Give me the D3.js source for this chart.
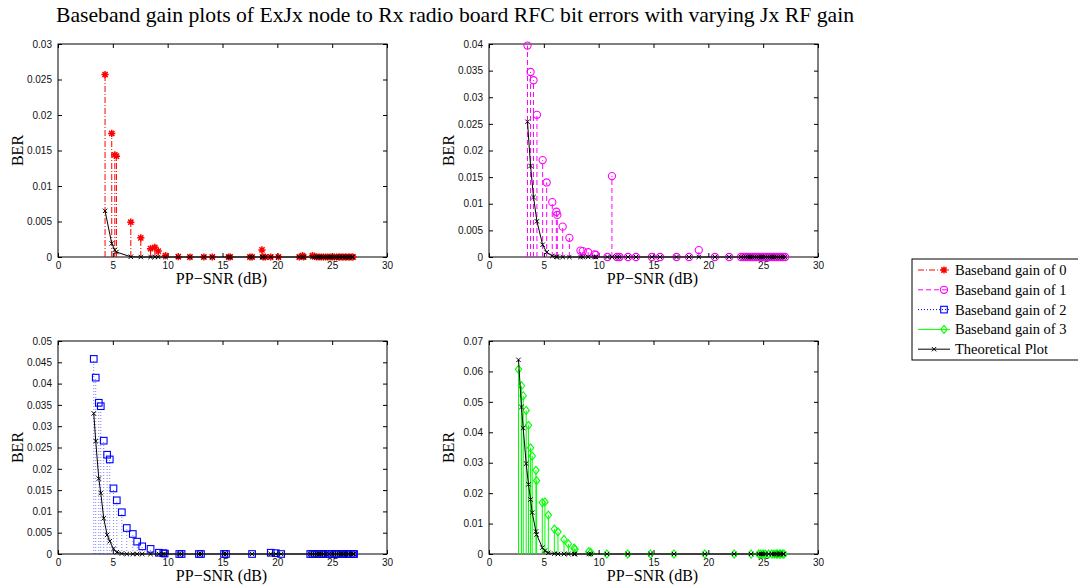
<!DOCTYPE html>
<html>
<head>
<meta charset="utf-8">
<script src="https://cdn.jsdelivr.net/npm/d3@7"></script>
<style>
  body { margin: 0; background: #fff; }
  .tick text { font-family: "Liberation Sans", Arial, sans-serif; font-size: 10px; }
</style>
</head>
<body>
<div id="chart"></div>
<script>
const title = "Baseband gain plots of ExJx node to Rx radio board RFC bit errors with varying Jx RF gain";
const seriesNames = ["Baseband gain of 0", "Baseband gain of 1", "Baseband gain of 2", "Baseband gain of 3", "Theoretical Plot"];
const xTicks = [0, 5, 10, 15, 20, 25, 30];
const yMax = [0.03, 0.04, 0.05, 0.07];
const yTicks0 = [0, 0.005, 0.01, 0.015, 0.02, 0.025, 0.03];
const yTicks1 = [0, 0.005, 0.01, 0.015, 0.02, 0.025, 0.03, 0.035, 0.04];
const yTicks2 = [0, 0.005, 0.01, 0.015, 0.02, 0.025, 0.03, 0.035, 0.04, 0.045, 0.05];
const yTicks3 = [0, 0.01, 0.02, 0.03, 0.04, 0.05, 0.06, 0.07];

// gain 0
const snr0 = [4.29, 4.9, 5.18, 5.33, 6.64, 7.55, 8.44, 8.83, 9.14, 9.8,
  10.97, 12.03, 13.3, 14.07, 15.56, 15.7, 17.5, 17.7, 18.6, 18.7,
  18.9, 19.4, 20.1, 22.0, 22.3, 22.4, 23.2, 23.4, 23.6, 23.8,
  24.0, 24.2, 24.4, 24.6, 24.8, 25.0, 25.2, 25.4, 25.6, 25.7,
  25.9, 26.0, 26.2, 26.3, 26.5, 26.6, 26.8, 26.9];
const ber0 = [0.0257, 0.0174, 0.0144, 0.0142, 0.0049, 0.0027, 0.00117, 0.00136, 0.00084, 0.0002,
  0.00005, 0, 0, 0, 0, 0, 0, 0, 0.001, 0,
  0, 0, 0, 0, 0.0002, 0, 0.0002, 0.0001, 0, 0,
  0, 0, 0, 0, 0, 0, 0, 0, 0, 0,
  0, 0, 0, 0, 0, 0, 0, 0];
const theory0 = [0.0065, 0.0019, 0.001, 0.0007, 0.00003, 0, 0, 0, 0, 0,
  0, 0, 0, 0, 0, 0, 0, 0, 0, 0,
  0, 0, 0, 0, 0, 0, 0, 0, 0, 0,
  0, 0, 0, 0, 0, 0, 0, 0, 0, 0,
  0, 0, 0, 0, 0, 0, 0, 0];

// gain 1
const snr1 = [3.51, 3.79, 4.06, 4.37, 4.89, 5.26, 5.77, 6.14, 6.23, 6.72,
  7.33, 8.34, 8.55, 9.04, 9.62, 9.75, 10.8, 11.21, 11.67, 11.9,
  12.68, 13.4, 14.85, 15.6, 17.1, 18.24, 19.13, 20.6, 21.9, 22.98,
  23.2, 23.4, 23.6, 23.8, 24.0, 24.2, 24.4, 24.6, 24.8, 25.0,
  25.2, 25.4, 25.6, 25.8, 26.0, 26.2, 26.4, 26.6, 26.8, 27.0];
const ber1 = [0.0397, 0.03475, 0.0332, 0.0267, 0.0182, 0.014, 0.0103, 0.0085, 0.0079, 0.0057,
  0.0036, 0.0012, 0.0011, 0.0009, 0.0005, 0.0004, 0, 0.0152, 0, 0,
  0, 0, 0, 0, 0, 0, 0.0013, 0, 0, 0,
  0, 0, 0, 0, 0, 0, 0, 0, 0, 0,
  0, 0, 0, 0, 0, 0, 0, 0, 0, 0];
const theory1 = [0.0254, 0.0171, 0.01125, 0.0067, 0.0023, 0.0009, 0.0002, 0.00005, 0, 0,
  0, 0, 0, 0, 0, 0, 0, 0, 0, 0,
  0, 0, 0, 0, 0, 0, 0, 0, 0, 0,
  0, 0, 0, 0, 0, 0, 0, 0, 0, 0,
  0, 0, 0, 0, 0, 0, 0, 0, 0, 0];

// gain 2
const snr2 = [3.26, 3.44, 3.72, 3.9, 4.17, 4.48, 4.72, 5.06, 5.36, 5.82,
  6.27, 6.82, 7.22, 7.68, 8.44, 9.2, 9.6, 9.72, 11.06, 11.27,
  12.85, 13.04, 15.14, 15.32, 17.7, 19.4, 19.86, 20.35, 23.0, 23.2,
  23.4, 23.6, 23.8, 24.0, 24.2, 24.4, 24.7, 25.0, 25.2, 25.4,
  25.6, 25.8, 26.0, 26.1, 26.3, 26.5, 26.7, 26.9, 27.0];
const ber2 = [0.0458, 0.0414, 0.0355, 0.0347, 0.0266, 0.0233, 0.0222, 0.0154, 0.0126, 0.0098,
  0.0061, 0.0047, 0.0029, 0.0018, 0.0012, 0.0003, 0.0002, 0.0001, 0, 0,
  0, 0, 0, 0, 0, 0.0003, 0.0002, 0, 0, 0,
  0, 0, 0, 0, 0, 0, 0, 0, 0, 0,
  0, 0, 0, 0, 0, 0, 0, 0, 0];
const theory2 = [0.033, 0.0265, 0.0177, 0.0143, 0.0084, 0.0045, 0.003, 0.0012, 0.0004, 0.0001,
  0, 0, 0, 0, 0, 0, 0, 0, 0, 0,
  0, 0, 0, 0, 0, 0, 0, 0, 0, 0,
  0, 0, 0, 0, 0, 0, 0, 0, 0, 0,
  0, 0, 0, 0, 0, 0, 0, 0, 0];

// gain 3
const snr3 = [2.69, 2.96, 3.12, 3.39, 3.6, 3.79, 3.94, 4.28, 4.34, 4.86,
  5.1, 5.41, 5.96, 6.29, 6.84, 7.24, 7.76, 7.85, 9.1, 9.29,
  10.75, 12.65, 14.73, 16.87, 19.68, 22.36, 23.9, 24.6, 24.8, 25.0,
  25.2, 25.5, 25.8, 26.0, 26.2, 26.3, 26.5, 26.6, 26.8, 26.9];
const ber3 = [0.0607, 0.0553, 0.052, 0.0472, 0.0423, 0.0349, 0.0322, 0.0275, 0.0241, 0.0169,
  0.0171, 0.0128, 0.0082, 0.0073, 0.0048, 0.0033, 0.0019, 0.0016, 0.0008, 0.0005,
  0, 0, 0, 0, 0, 0, 0, 0, 0, 0,
  0, 0, 0, 0, 0, 0, 0, 0, 0, 0];
const theory3 = [0.0638, 0.0483, 0.0414, 0.0297, 0.0229, 0.0179, 0.0136, 0.0074, 0.0064, 0.0021,
  0.0011, 0.0004, 0.0001, 0, 0, 0, 0, 0, 0, 0,
  0, 0, 0, 0, 0, 0, 0, 0, 0, 0,
  0, 0, 0, 0, 0, 0, 0, 0, 0, 0];

const width = 1078;
const height = 588;
const pw = 329;
const ph = 213;
const tickLen = 4;

const styles = [
  {color: "#ff0000", dash: "6,2,1,2", marker: "star"},
  {color: "#ff00ff", dash: "5,3", marker: "circle"},
  {color: "#0000ff", dash: "1,2", marker: "square", opacity: 0.5},
  {color: "#00ff00", dash: null, marker: "diamond"}
];

const panels = [
  {x: 58, y: 44, snr: snr0, ber: ber0, theory: theory0, ymax: yMax[0], yticks: yTicks0},
  {x: 489, y: 44, snr: snr1, ber: ber1, theory: theory1, ymax: yMax[1], yticks: yTicks1},
  {x: 58, y: 341, snr: snr2, ber: ber2, theory: theory2, ymax: yMax[2], yticks: yTicks2},
  {x: 489, y: 341, snr: snr3, ber: ber3, theory: theory3, ymax: yMax[3], yticks: yTicks3}
];

const svg = d3.select("#chart")
  .append("svg")
    .attr("width", width)
    .attr("height", height)
    .style("font-family", "'Liberation Serif', 'Times New Roman', serif");

svg.append("text")
  .attr("x", 455)
  .attr("y", 22)
  .attr("text-anchor", "middle")
  .attr("font-size", 21.7)
  .text(title);

function drawMarker(g, type, x, y, color) {
  if (type == "star") {
    const r = 3.6, d = 2.6;
    g.append("path")
      .attr("d", `M${x-r},${y}L${x+r},${y}M${x},${y-r}L${x},${y+r}M${x-d},${y-d}L${x+d},${y+d}M${x-d},${y+d}L${x+d},${y-d}`)
      .attr("stroke", color).attr("stroke-width", 1.5).attr("fill", "none");
  } else if (type == "circle") {
    g.append("circle").attr("cx", x).attr("cy", y).attr("r", 3.6)
      .attr("stroke", color).attr("fill", "none").attr("stroke-width", 1.1);
  } else if (type == "square") {
    g.append("rect").attr("x", x - 3.3).attr("y", y - 3.3).attr("width", 6.6).attr("height", 6.6)
      .attr("stroke", color).attr("fill", "none").attr("stroke-width", 1.1);
  } else if (type == "diamond") {
    g.append("path").attr("d", `M${x},${y-4}L${x+3.2},${y}L${x},${y+4}L${x-3.2},${y}Z`)
      .attr("stroke", color).attr("fill", "none").attr("stroke-width", 1.1);
  } else if (type == "x") {
    const r = 2.2;
    g.append("path").attr("d", `M${x-r},${y-r}L${x+r},${y+r}M${x-r},${y+r}L${x+r},${y-r}`)
      .attr("stroke", color).attr("stroke-width", 1);
  }
}

panels.forEach((p, i) => {
  const st = styles[i];
  const g = svg.append("g").attr("transform", `translate(${p.x},${p.y})`);

  const xScale = d3.scaleLinear().domain([0, 30]).range([0, pw]);
  const yScale = d3.scaleLinear().domain([0, p.ymax]).range([ph, 0]);

  // axes, ticks pointing inward on all four sides
  g.append("g")
    .attr("transform", "translate(0," + ph + ")")
    .call(d3.axisBottom(xScale).tickValues(xTicks).tickSizeInner(-tickLen).tickSizeOuter(0).tickPadding(5).tickFormat(d3.format("d")));
  g.append("g")
    .call(d3.axisTop(xScale).tickValues(xTicks).tickSizeInner(-tickLen).tickSizeOuter(0).tickFormat(""));
  g.append("g")
    .call(d3.axisLeft(yScale).tickValues(p.yticks).tickSizeInner(-tickLen).tickSizeOuter(0).tickPadding(6).tickFormat(d3.format("~g")));
  g.append("g")
    .attr("transform", "translate(" + pw + ",0)")
    .call(d3.axisRight(yScale).tickValues(p.yticks).tickSizeInner(-tickLen).tickSizeOuter(0).tickFormat(""));
  g.selectAll(".domain").remove();
  g.selectAll(".tick line").attr("stroke", "#000");
  g.selectAll(".tick text").attr("fill", "#111");
  g.append("rect")
    .attr("width", pw).attr("height", ph)
    .attr("fill", "none").attr("stroke", "#000").attr("stroke-width", 1);

  // stems
  const stems = g.append("g");
  p.snr.forEach((s, k) => {
    stems.append("line")
      .attr("x1", xScale(s)).attr("x2", xScale(s))
      .attr("y1", yScale(0)).attr("y2", yScale(p.ber[k]))
      .attr("stroke", st.color)
      .attr("stroke-width", 1)
      .attr("stroke-opacity", st.opacity || 1)
      .attr("stroke-dasharray", st.dash);
  });
  const marks = g.append("g");
  p.snr.forEach((s, k) => drawMarker(marks, st.marker, xScale(s), yScale(p.ber[k]), st.color));

  // theoretical curve
  const line = d3.line().x(d => xScale(d[0])).y(d => yScale(d[1]));
  const pts = p.snr.map((s, k) => [s, p.theory[k]]);
  g.append("path").datum(pts).attr("d", line)
    .attr("fill", "none").attr("stroke", "#000").attr("stroke-width", 1);
  const tm = g.append("g");
  pts.forEach(d => drawMarker(tm, "x", xScale(d[0]), yScale(d[1]), "#000"));

  // labels
  g.append("text")
    .attr("x", pw / 2 - 1).attr("y", ph + 27)
    .attr("text-anchor", "middle").attr("font-size", 16)
    .text("PP\u2212SNR (dB)");
  g.append("text")
    .attr("transform", `translate(-35,${ph / 2}) rotate(-90)`)
    .attr("text-anchor", "middle").attr("font-size", 16)
    .text("BER");
});

// legend
const legend = svg.append("g").attr("transform", "translate(912,259)");
legend.append("rect")
  .attr("width", 180).attr("height", 101)
  .attr("fill", "#fff").attr("stroke", "#000").attr("stroke-width", 1);
const legendStyles = styles.concat([{color: "#000", dash: null, marker: "x"}]);
seriesNames.forEach((name, i) => {
  const yy = 11 + i * 19.8;
  const st = legendStyles[i];
  legend.append("line")
    .attr("x1", 6).attr("x2", 38).attr("y1", yy).attr("y2", yy)
    .attr("stroke", st.color).attr("stroke-width", 1)
    .attr("stroke-dasharray", st.dash);
  drawMarker(legend, st.marker, i == 4 ? 22 : 32, yy, st.color);
  legend.append("text")
    .attr("x", 43).attr("y", yy + 5)
    .attr("font-size", 14.5)
    .text(name);
});
</script>
</body>
</html>
